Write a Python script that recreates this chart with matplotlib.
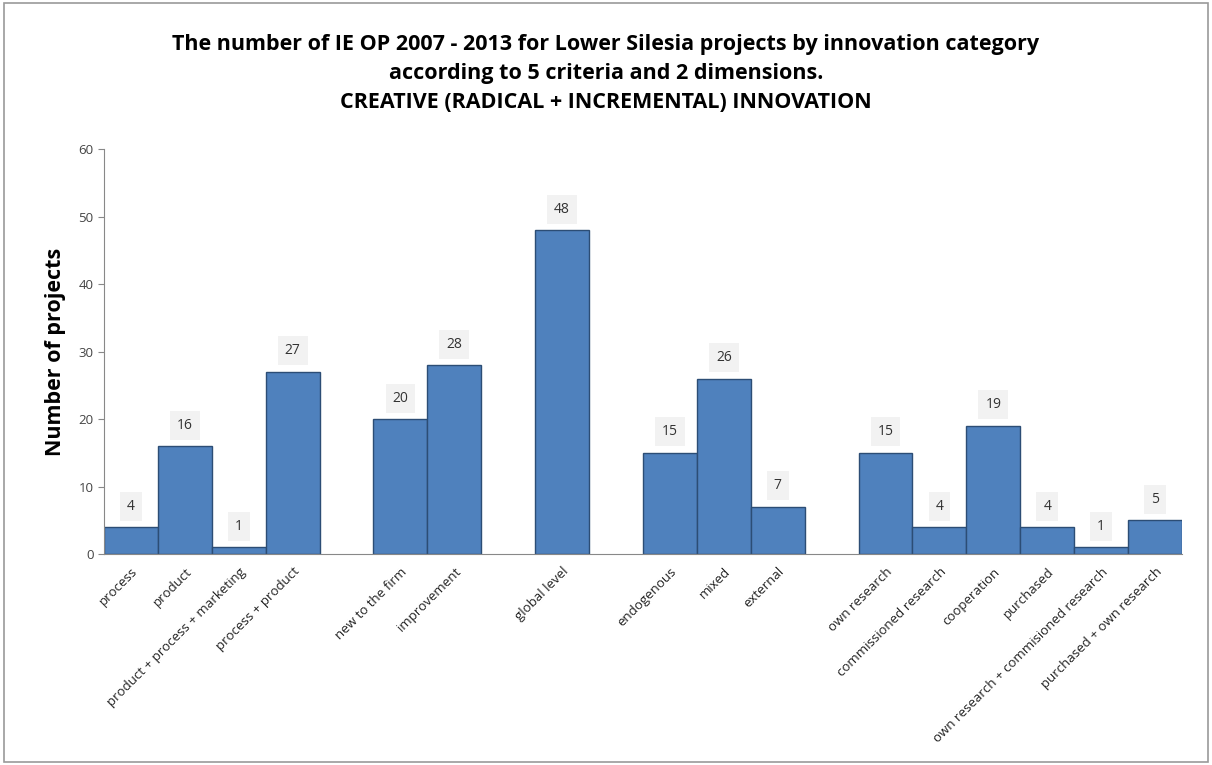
import matplotlib
matplotlib.use("Agg")
import matplotlib.pyplot as plt
import numpy as np

plt.rcParams['font.family'] = ['Open Sans', 'DejaVu Sans']

# empty strings mark the gaps between criteria groups
categories = [
    'process', 'product', 'product + process + marketing', 'process + product', '',
    'new to the firm', 'improvement', '',
    'global level', '',
    'endogenous', 'mixed', 'external', '',
    'own research', 'commissioned research', 'cooperation', 'purchased',
    'own research + commisioned research', 'purchased + own research',
]
values = [4, 16, 1, 27, None, 20, 28, None, 48, None, 15, 26, 7, None,
          15, 4, 19, 4, 1, 5]

title = ('The number of IE OP 2007 - 2013 for Lower Silesia projects by innovation category\n'
         'according to 5 criteria and 2 dimensions.\n'
         'CREATIVE (RADICAL + INCREMENTAL) INNOVATION')

fig = plt.figure(figsize=(12.12, 7.65), dpi=100)
ax = fig.add_axes([0.0858, 0.2758, 0.8894, 0.5294])

x = np.arange(len(categories))
for xi, v in zip(x, values):
    if v is None:
        continue
    ax.bar(xi, v, width=1.0, color='#4f81bd', edgecolor='#2c4d75', linewidth=1.0)
    ax.annotate(str(v), (xi, v), xytext=(0, 15), textcoords='offset points',
                ha='center', va='center', fontsize=10, color='#333333',
                bbox=dict(boxstyle='square,pad=0.5', fc='#f2f2f2', ec='none'))

ax.set_xlim(-0.5, len(categories) - 0.5)
ax.set_ylim(0, 60)
ax.set_yticks(range(0, 61, 10))
ax.set_xticks(x)
ax.set_xticklabels(categories, rotation=45, ha='right', rotation_mode='anchor',
                   fontsize=9.5, color='#222222')
ax.tick_params(axis='x', length=0, pad=8)
ax.tick_params(axis='y', length=4, color='#888888', labelsize=9.5, labelcolor='#444444')
for s in ['top', 'right']:
    ax.spines[s].set_visible(False)
for s in ['left', 'bottom']:
    ax.spines[s].set_color('#888888')

ax.set_ylabel('Number of projects', fontsize=15.5, fontweight='bold', labelpad=9)
fig.text(0.5, 0.956, title, ha='center', va='top', fontsize=15.5, fontweight='bold',
         linespacing=1.52)

fig.patches.append(plt.Rectangle((0.003, 0.004), 0.994, 0.992, transform=fig.transFigure,
                                 fill=False, ec='#9a9a9a', lw=1.2))

fig.savefig('out.png', dpi=100, facecolor='white')
